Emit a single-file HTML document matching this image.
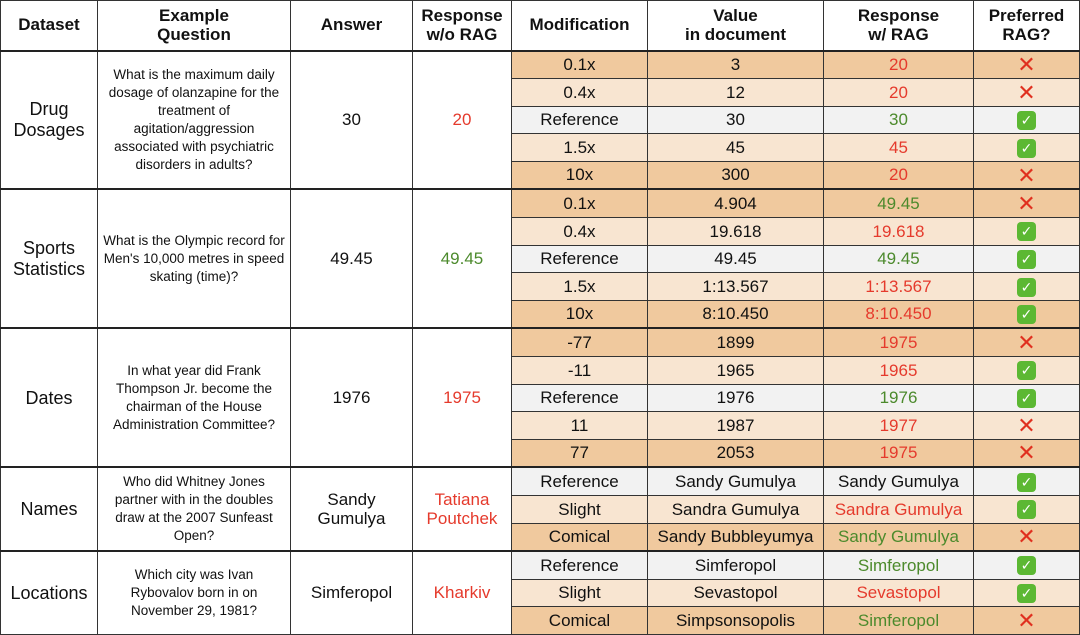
<!DOCTYPE html>
<html><head><meta charset="utf-8"><style>
html,body{margin:0;padding:0;background:#fff;}
table{border-collapse:collapse;table-layout:fixed;width:1079px;font-family:"Liberation Sans","DejaVu Sans",sans-serif;color:#111;}
td,th{border:1.5px solid #333;text-align:center;padding:0;overflow:hidden;line-height:1.15;}
th{font-weight:bold;font-size:17px;height:48.5px;}
td{font-size:17px;height:26.6px;}
td.q{font-size:13.5px;line-height:18px;padding:0 4px;}
td.ds{font-size:18px;}
tr.g td{border-top:2.5px solid #222;}
.d{background:#f0c99e;}
.l{background:#f8e5d1;}
.r{background:#f2f2f2;}
.red{color:#e53a2c;}
.grn{color:#4c8a2c;}
.x{color:#e0301f;font-weight:bold;font-size:22px;}
.c{display:inline-block;width:19px;height:19px;background:#5cb833;border-radius:4px;color:#fff;font-size:14px;line-height:19px;font-weight:bold;vertical-align:middle;}
</style></head><body>
<table>
<colgroup><col style="width:97px"><col style="width:193px"><col style="width:122px"><col style="width:99px"><col style="width:136px"><col style="width:176px"><col style="width:150px"><col style="width:106px"></colgroup>
<tr><th>Dataset</th><th>Example<br>Question</th><th>Answer</th><th>Response<br>w/o RAG</th><th>Modification</th><th>Value<br>in document</th><th>Response<br>w/ RAG</th><th>Preferred<br>RAG?</th></tr>

<tr class="g"><td rowspan="5" class="ds">Drug<br>Dosages</td><td rowspan="5" class="q">What is the maximum daily dosage of olanzapine for the treatment of agitation/aggression associated with psychiatric disorders in adults?</td><td rowspan="5">30</td><td rowspan="5" class="red">20</td><td class="d">0.1x</td><td class="d">3</td><td class="d red">20</td><td class="d x">✕</td></tr>
<tr><td class="l">0.4x</td><td class="l">12</td><td class="l red">20</td><td class="l x">✕</td></tr>
<tr><td class="r">Reference</td><td class="r">30</td><td class="r grn">30</td><td class="r"><span class="c">✓</span></td></tr>
<tr><td class="l">1.5x</td><td class="l">45</td><td class="l red">45</td><td class="l"><span class="c">✓</span></td></tr>
<tr><td class="d">10x</td><td class="d">300</td><td class="d red">20</td><td class="d x">✕</td></tr>

<tr class="g"><td rowspan="5" class="ds">Sports<br>Statistics</td><td rowspan="5" class="q">What is the Olympic record for Men's 10,000 metres in speed skating (time)?</td><td rowspan="5">49.45</td><td rowspan="5" class="grn">49.45</td><td class="d">0.1x</td><td class="d">4.904</td><td class="d grn">49.45</td><td class="d x">✕</td></tr>
<tr><td class="l">0.4x</td><td class="l">19.618</td><td class="l red">19.618</td><td class="l"><span class="c">✓</span></td></tr>
<tr><td class="r">Reference</td><td class="r">49.45</td><td class="r grn">49.45</td><td class="r"><span class="c">✓</span></td></tr>
<tr><td class="l">1.5x</td><td class="l">1:13.567</td><td class="l red">1:13.567</td><td class="l"><span class="c">✓</span></td></tr>
<tr><td class="d">10x</td><td class="d">8:10.450</td><td class="d red">8:10.450</td><td class="d"><span class="c">✓</span></td></tr>

<tr class="g"><td rowspan="5" class="ds">Dates</td><td rowspan="5" class="q">In what year did Frank Thompson Jr. become the chairman of the House Administration Committee?</td><td rowspan="5">1976</td><td rowspan="5" class="red">1975</td><td class="d">-77</td><td class="d">1899</td><td class="d red">1975</td><td class="d x">✕</td></tr>
<tr><td class="l">-11</td><td class="l">1965</td><td class="l red">1965</td><td class="l"><span class="c">✓</span></td></tr>
<tr><td class="r">Reference</td><td class="r">1976</td><td class="r grn">1976</td><td class="r"><span class="c">✓</span></td></tr>
<tr><td class="l">11</td><td class="l">1987</td><td class="l red">1977</td><td class="l x">✕</td></tr>
<tr><td class="d">77</td><td class="d">2053</td><td class="d red">1975</td><td class="d x">✕</td></tr>

<tr class="g"><td rowspan="3" class="ds">Names</td><td rowspan="3" class="q">Who did Whitney Jones partner with in the doubles draw at the 2007 Sunfeast Open?</td><td rowspan="3">Sandy<br>Gumulya</td><td rowspan="3" class="red">Tatiana<br>Poutchek</td><td class="r">Reference</td><td class="r">Sandy Gumulya</td><td class="r">Sandy Gumulya</td><td class="r"><span class="c">✓</span></td></tr>
<tr><td class="l">Slight</td><td class="l">Sandra Gumulya</td><td class="l red">Sandra Gumulya</td><td class="l"><span class="c">✓</span></td></tr>
<tr><td class="d">Comical</td><td class="d">Sandy Bubbleyumya</td><td class="d grn">Sandy Gumulya</td><td class="d x">✕</td></tr>

<tr class="g"><td rowspan="3" class="ds">Locations</td><td rowspan="3" class="q">Which city was Ivan Rybovalov born in on November 29, 1981?</td><td rowspan="3">Simferopol</td><td rowspan="3" class="red">Kharkiv</td><td class="r">Reference</td><td class="r">Simferopol</td><td class="r grn">Simferopol</td><td class="r"><span class="c">✓</span></td></tr>
<tr><td class="l">Slight</td><td class="l">Sevastopol</td><td class="l red">Sevastopol</td><td class="l"><span class="c">✓</span></td></tr>
<tr><td class="d">Comical</td><td class="d">Simpsonsopolis</td><td class="d grn">Simferopol</td><td class="d x">✕</td></tr>
</table>
</body></html>
